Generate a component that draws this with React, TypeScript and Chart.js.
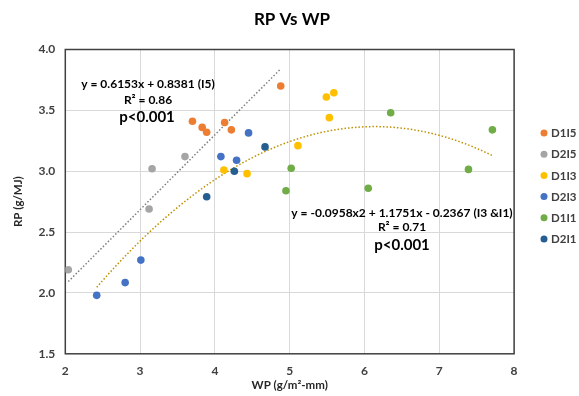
import React, { useEffect, useRef } from "react";
import { Chart, registerables } from "chart.js";

Chart.register(...registerables);

// ---- data ----
const seriesNames = ["D1I5", "D2I5", "D1I3", "D2I3", "D1I1", "D2I1"];
const seriesColors = ["#ED7D31", "#A5A5A5", "#FFC000", "#4472C4", "#70AD47", "#255E91"];

const d1i5X = [4.88, 3.70, 3.83, 3.89, 4.13, 4.22];
const d1i5Y = [3.70, 3.41, 3.36, 3.32, 3.40, 3.34];

const d2i5X = [3.60, 3.16, 3.12, 2.04];
const d2i5Y = [3.12, 3.02, 2.69, 2.19];

const d1i3X = [4.12, 4.43, 5.11, 5.49, 5.59, 5.53];
const d1i3Y = [3.01, 2.98, 3.21, 3.61, 3.645, 3.44];

const d2i3X = [4.45, 4.08, 4.29, 3.01, 2.80, 2.42];
const d2i3Y = [3.315, 3.12, 3.09, 2.27, 2.085, 1.98];

const d1i1X = [5.02, 4.95, 6.35, 7.71, 7.39, 6.05];
const d1i1Y = [3.025, 2.84, 3.48, 3.34, 3.015, 2.86];

const d2i1X = [4.67, 4.26, 3.89];
const d2i1Y = [3.20, 3.00, 2.79];

// trendlines (equations shown on the chart)
const linearCoef = [0.6153, 0.8381]; // slope, intercept
const linearRange = [2.04, 4.88];
const polyCoef = [-0.0958, 1.1751, -0.2367]; // a, b, c
const polyRange = [2.42, 7.71];

const xTicks = [2, 3, 4, 5, 6, 7, 8];
const yTicks = [1.5, 2.0, 2.5, 3.0, 3.5, 4.0];

const titleText = "RP Vs WP";
const xTitle = "WP (g/m\u00B2-mm)";
const yTitle = "RP (g/MJ)";
const eq1 = ["y = 0.6153x + 0.8381 (I5)", "R\u00B2 = 0.86", "p<0.001"];
const eq2 = ["y = -0.0958x2 + 1.1751x - 0.2367 (I3 &I1)", "R\u00B2 = 0.71", "p<0.001"];

const FONT = "Lato, 'Liberation Sans', sans-serif";

function zip(xs: number[], ys: number[]) {
  return xs.map((x, i) => ({ x, y: ys[i] }));
}

const seriesX = [d1i5X, d2i5X, d1i3X, d2i3X, d1i1X, d2i1X];
const seriesY = [d1i5Y, d2i5Y, d1i3Y, d2i3Y, d1i1Y, d2i1Y];

export default function App() {
  const ref = useRef<HTMLCanvasElement | null>(null);

  useEffect(() => {
    document.body.style.margin = "0";
    const canvas = ref.current;
    if (!canvas) return;

    const linPts = linearRange.map((x) => ({ x, y: linearCoef[0] * x + linearCoef[1] }));
    const polyPts: { x: number; y: number }[] = [];
    const n = 60;
    for (let i = 0; i <= n; i++) {
      const x = polyRange[0] + ((polyRange[1] - polyRange[0]) * i) / n;
      polyPts.push({ x, y: polyCoef[0] * x * x + polyCoef[1] * x + polyCoef[2] });
    }

    const overlay = {
      id: "overlay",
      beforeDatasetsDraw(chart: any) {
        const { ctx, chartArea } = chart;
        ctx.save();
        ctx.strokeStyle = "#404040";
        ctx.lineWidth = 1.5;
        ctx.strokeRect(chartArea.left, chartArea.top, chartArea.right - chartArea.left, chartArea.bottom - chartArea.top);
        ctx.restore();
      },
      afterDraw(chart: any) {
        const { ctx, chartArea } = chart;
        ctx.save();
        ctx.fillStyle = "#000000";
        ctx.textAlign = "center";
        ctx.textBaseline = "middle";
        // title
        ctx.font = `bold 17px ${FONT}`;
        ctx.fillText(titleText, 292, 20);
        // axis titles
        ctx.fillStyle = "#262626";
        ctx.font = `bold 11.5px ${FONT}`;
        ctx.fillText(xTitle, (chartArea.left + chartArea.right) / 2, 385);
        ctx.save();
        ctx.translate(18, (chartArea.top + chartArea.bottom) / 2);
        ctx.rotate(-Math.PI / 2);
        ctx.fillText(yTitle, 0, 0);
        ctx.restore();
        // equations
        ctx.fillStyle = "#000000";
        ctx.font = `bold 12px ${FONT}`;
        ctx.fillText(eq1[0], 148, 84);
        ctx.fillText(eq1[1], 148, 100);
        ctx.font = `bold 15px ${FONT}`;
        ctx.fillText(eq1[2], 147, 117);
        ctx.font = `bold 12px ${FONT}`;
        ctx.fillText(eq2[0], 402, 213);
        ctx.fillText(eq2[1], 402, 227);
        ctx.font = `bold 15px ${FONT}`;
        ctx.fillText(eq2[2], 402, 245);
        // legend
        ctx.font = `bold 11.5px ${FONT}`;
        ctx.textAlign = "left";
        seriesNames.forEach((name, i) => {
          const y = 133 + 21.2 * i;
          ctx.beginPath();
          ctx.arc(544, y, 3.5, 0, Math.PI * 2);
          ctx.fillStyle = seriesColors[i];
          ctx.fill();
          ctx.fillStyle = "#404040";
          ctx.fillText(name, 551, y + 0.5);
        });
        ctx.restore();
      },
    };

    const scatterSets = seriesNames.map((name, i) => ({
      type: "scatter" as const,
      label: name,
      data: zip(seriesX[i], seriesY[i]),
      backgroundColor: seriesColors[i],
      borderColor: seriesColors[i],
      borderWidth: 0,
      pointRadius: 3.8,
      showLine: false,
    }));

    const chart = new Chart(canvas, {
      type: "scatter",
      data: {
        datasets: [
          ...scatterSets,
          {
            type: "line" as const,
            label: "trend I5",
            data: linPts,
            borderColor: "#7F7F7F",
            borderWidth: 1.5,
            borderDash: [1.5, 2],
            pointRadius: 0,
            fill: false,
            tension: 0,
          },
          {
            type: "line" as const,
            label: "trend I3&I1",
            data: polyPts,
            borderColor: "#BF9000",
            borderWidth: 1.5,
            borderDash: [1.5, 2],
            pointRadius: 0,
            fill: false,
            tension: 0,
          },
        ] as any,
      },
      options: {
        responsive: false,
        animation: false,
        layout: { padding: { left: 0, top: 49.5, right: 64.9, bottom: 0 } },
        plugins: {
          legend: { display: false },
          title: { display: false },
          tooltip: { enabled: false },
        },
        scales: {
          x: {
            type: "linear",
            min: 2,
            max: 8,
            afterBuildTicks: (s: any) => {
              s.ticks = xTicks.map((v) => ({ value: v }));
            },
            afterFit: (s: any) => {
              s.height = 396 - 353.8;
            },
            ticks: {
              padding: 10,
              color: "#404040",
              font: { family: FONT, size: 12, weight: "bold" },
              callback: (v: any) => String(v),
            },
            grid: { color: "#D9D9D9", lineWidth: 1, drawTicks: false },
            border: { display: false },
          },
          y: {
            type: "linear",
            min: 1.5,
            max: 4,
            afterBuildTicks: (s: any) => {
              s.ticks = yTicks.map((v) => ({ value: v }));
            },
            afterFit: (s: any) => {
              s.width = 65.3;
            },
            ticks: {
              padding: 10,
              color: "#404040",
              font: { family: FONT, size: 12, weight: "bold" },
              callback: (v: any) => Number(v).toFixed(1),
            },
            grid: { color: "#D9D9D9", lineWidth: 1, drawTicks: false },
            border: { display: false },
          },
        },
      } as any,
      plugins: [overlay],
    });

    return () => chart.destroy();
  }, []);

  return (
    <div style={{ width: 579, height: 396, background: "#ffffff" }}>
      <canvas ref={ref} width={579} height={396} />
    </div>
  );
}
